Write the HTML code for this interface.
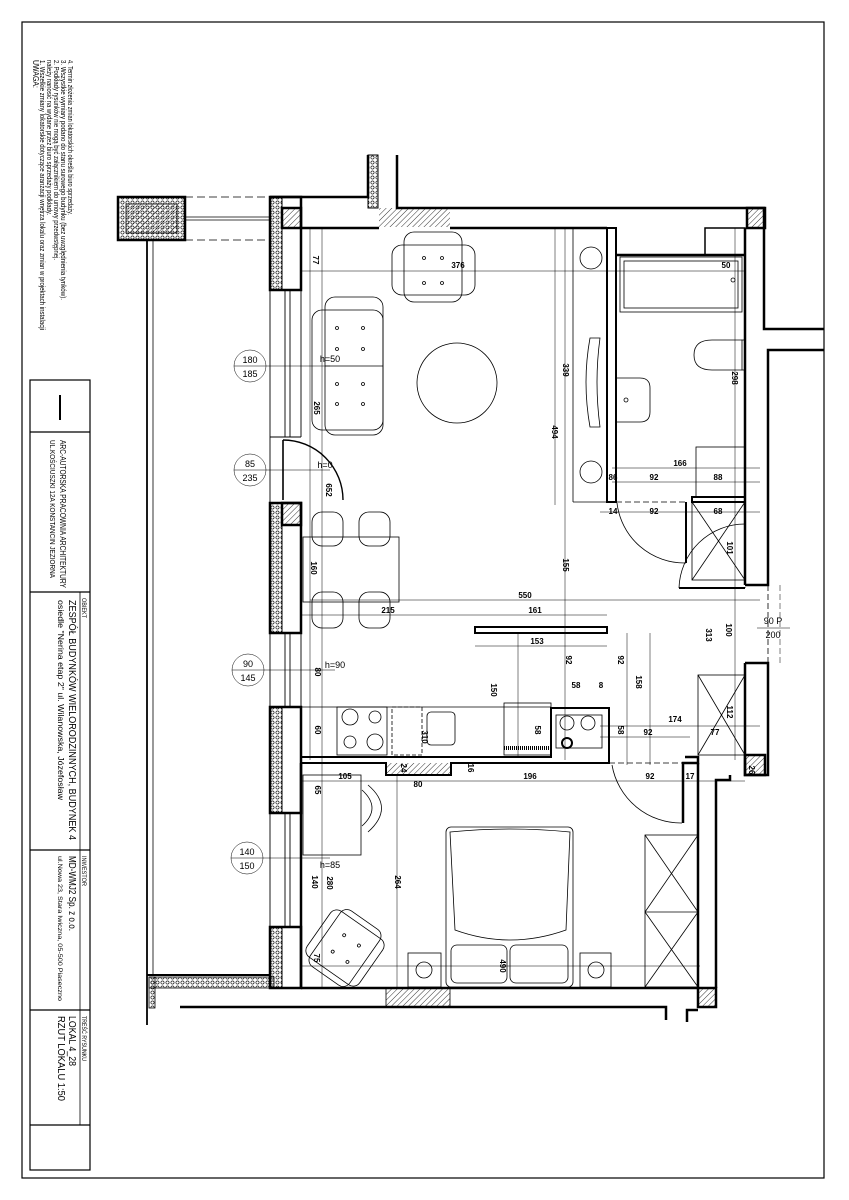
<!DOCTYPE html>
<html><head><meta charset="utf-8"><style>
html,body{margin:0;padding:0;background:#fff}
svg{display:block}
text{font-family:"Liberation Sans Narrow","Liberation Sans",sans-serif;fill:#000}
</style></head><body>
<svg width="849" height="1200" viewBox="0 0 849 1200" xmlns="http://www.w3.org/2000/svg">
<defs>
<pattern id="h" width="4" height="4" patternUnits="userSpaceOnUse" patternTransform="rotate(45)"><line x1="0" y1="0" x2="0" y2="4" stroke="#000" stroke-width="0.8"/></pattern>
<pattern id="ins" width="5" height="5" patternUnits="userSpaceOnUse"><circle cx="2.5" cy="2.5" r="1.6" fill="none" stroke="#000" stroke-width="0.6"/></pattern>
</defs>
<rect x="22" y="22" width="802" height="1156" fill="none" stroke="#000" stroke-width="1.2"/>
<!-- notes -->
<g font-size="7">
<text transform="translate(33,60) rotate(90)" font-size="8" textLength="28" lengthAdjust="spacingAndGlyphs">UWAGA:</text>
<text transform="translate(40,60) rotate(90)" textLength="270" lengthAdjust="spacingAndGlyphs">1. Wszelkie zmiany lokatorskie dotyczące aranżacji wnętrza lokalu oraz zmian w projektach instalacji</text>
<text transform="translate(47,60) rotate(90)" textLength="155" lengthAdjust="spacingAndGlyphs">należy nanosić na wydane przez biuro sprzedaży podkłady.</text>
<text transform="translate(54,60) rotate(90)" textLength="200" lengthAdjust="spacingAndGlyphs">2. Podkłady rysunków nie mogą być załącznikiem do umowy przedwstępnej.</text>
<text transform="translate(61,60) rotate(90)" textLength="240" lengthAdjust="spacingAndGlyphs">3. Wszystkie wymiary podano do stanu surowego budynku (bez uwzględnienia tynków).</text>
<text transform="translate(68,60) rotate(90)" textLength="155" lengthAdjust="spacingAndGlyphs">4. Termin złożenia zmian lokatorskich określa biuro sprzedaży.</text>
</g>
<!-- title block -->
<g stroke="#000" fill="none" stroke-width="1.2">
<rect x="30" y="380" width="60" height="790"/>
<line x1="30" y1="432" x2="90" y2="432"/>
<line x1="30" y1="592" x2="90" y2="592"/>
<line x1="30" y1="850" x2="90" y2="850"/>
<line x1="30" y1="1010" x2="90" y2="1010"/>
<line x1="30" y1="1125" x2="90" y2="1125"/>
<line x1="80" y1="592" x2="80" y2="1125" stroke-width="0.8"/>
<line x1="60" y1="395" x2="60" y2="420" stroke-width="2"/>
</g>
<g>
<text transform="translate(60,440) rotate(90)" font-size="8" textLength="148" lengthAdjust="spacingAndGlyphs">ARC-AUTORSKA PRACOWNIA ARCHITEKTURY</text>
<text transform="translate(50,440) rotate(90)" font-size="7" textLength="138" lengthAdjust="spacingAndGlyphs">UL.KOŚCIUSZKI 12A  KONSTANCIN JEZIORNA</text>
<text transform="translate(82,598) rotate(90)" font-size="6" textLength="20" lengthAdjust="spacingAndGlyphs">OBIEKT</text>
<text transform="translate(69,600) rotate(90)" font-size="10" textLength="240" lengthAdjust="spacingAndGlyphs">ZESPÓŁ BUDYNKÓW WIELORODZINNYCH, BUDYNEK 4</text>
<text transform="translate(58,600) rotate(90)" font-size="8" textLength="200" lengthAdjust="spacingAndGlyphs">osiedle "Nerina etap 2" ul. Wilanowska, Józefosław</text>
<text transform="translate(82,856) rotate(90)" font-size="6" textLength="30" lengthAdjust="spacingAndGlyphs">INWESTOR</text>
<text transform="translate(69,856) rotate(90)" font-size="10" textLength="75" lengthAdjust="spacingAndGlyphs">MD-WMJ2 Sp. z o.o.</text>
<text transform="translate(58,856) rotate(90)" font-size="6.5" textLength="145" lengthAdjust="spacingAndGlyphs">ul.Nowa 23, Stara Iwiczna, 05-500 Piaseczno</text>
<text transform="translate(82,1016) rotate(90)" font-size="6" textLength="45" lengthAdjust="spacingAndGlyphs">TREŚĆ RYSUNKU</text>
<text transform="translate(69,1016) rotate(90)" font-size="10" textLength="50" lengthAdjust="spacingAndGlyphs">LOKAL 4_28</text>
<text transform="translate(58,1016) rotate(90)" font-size="10" textLength="85" lengthAdjust="spacingAndGlyphs">RZUT LOKALU  1:50</text>
</g>

<!-- balcony -->
<g stroke="#000" fill="none">
<rect x="118" y="197" width="67" height="43" stroke-width="2.5" fill="url(#ins)"/>
<rect x="126" y="204" width="51" height="29" stroke-width="0.8" fill="url(#h)"/>
<line x1="185" y1="197" x2="270" y2="197" stroke-dasharray="8 4" stroke-width="0.7"/>
<line x1="185" y1="240" x2="270" y2="240" stroke-dasharray="8 4" stroke-width="0.7"/>
<line x1="185" y1="217" x2="270" y2="217" stroke-width="0.8"/>
<line x1="185" y1="220" x2="270" y2="220" stroke-width="0.8"/>
<line x1="147" y1="240" x2="147" y2="975" stroke-width="1.8"/>
<line x1="153" y1="240" x2="153" y2="975" stroke-width="0.8"/>
<polyline points="147,975 270,975 270,927" stroke-width="2"/>
<rect x="149" y="977" width="125" height="11" fill="url(#ins)" stroke-width="0.8"/>
<rect x="149" y="977" width="6" height="31" fill="url(#ins)" stroke-width="0.8"/>
<line x1="147" y1="975" x2="147" y2="1025" stroke-width="1.8"/>
</g>

<!-- walls -->
<g stroke="#000" fill="none" stroke-width="2.5">
<rect x="270" y="197" width="31" height="93" />
<rect x="270" y="197" width="12" height="93" fill="url(#ins)" stroke-width="1"/>
<rect x="270" y="503" width="31" height="130"/>
<rect x="270" y="503" width="12" height="130" fill="url(#ins)" stroke-width="1"/>
<rect x="270" y="707" width="31" height="106"/>
<rect x="270" y="707" width="12" height="106" fill="url(#ins)" stroke-width="1"/>
<rect x="270" y="927" width="31" height="61"/>
<rect x="270" y="927" width="12" height="61" fill="url(#ins)" stroke-width="1"/>
<rect x="282" y="208" width="19" height="20" fill="url(#h)"/>
<rect x="282" y="503" width="19" height="22" fill="url(#h)"/>
<g stroke-width="0.9">
<line x1="270" y1="290" x2="270" y2="503"/><line x1="301" y1="290" x2="301" y2="437"/>
<line x1="285" y1="290" x2="285" y2="437"/><line x1="290" y1="290" x2="290" y2="437"/>
<line x1="270" y1="633" x2="270" y2="707"/><line x1="301" y1="633" x2="301" y2="707"/>
<line x1="285" y1="633" x2="285" y2="707"/><line x1="290" y1="633" x2="290" y2="707"/>
<line x1="270" y1="813" x2="270" y2="927"/><line x1="301" y1="813" x2="301" y2="927"/>
<line x1="285" y1="813" x2="285" y2="927"/><line x1="290" y1="813" x2="290" y2="927"/>
<line x1="270" y1="437" x2="301" y2="437"/>
</g>
<polyline points="270,197 368,197 368,155"/>
<rect x="368" y="155" width="10" height="53" fill="url(#ins)" stroke-width="1"/>
<polyline points="397,155 397,208 765,208"/>
<rect x="379" y="208" width="71" height="19" fill="url(#h)" stroke="none"/>
<line x1="301" y1="228" x2="379" y2="228"/>
<line x1="450" y1="228" x2="607" y2="228"/>
<rect x="747" y="208" width="18" height="20" fill="url(#h)"/>
<rect x="607" y="228" width="9" height="274" stroke-width="2"/>
<line x1="616" y1="255" x2="745" y2="255"/>
<rect x="705" y="228" width="40" height="27" stroke-width="1.5"/>
<line x1="745" y1="228" x2="745" y2="585"/>
<polyline points="764,208 764,329 824,329"/>
<polyline points="824,350 768,350 768,585 745,585"/>
<rect x="692" y="497" width="53" height="5" stroke-width="2"/>
<line x1="616" y1="502" x2="685" y2="502" stroke-dasharray="6 3" stroke-width="0.8"/>
<line x1="686" y1="502" x2="686" y2="563" stroke-width="2"/>
<rect x="475" y="627" width="132" height="6" stroke-width="2"/>
<polyline points="301,757 551,757 551,708 609,708 609,763 451,763 451,775 386,775 386,763 301,763" stroke-width="2"/>
<rect x="386" y="763" width="65" height="12" fill="url(#h)" stroke="none"/>
<line x1="301" y1="763" x2="301" y2="988"/>
<line x1="301" y1="988" x2="698" y2="988"/>
<rect x="386" y="988" width="64" height="19" fill="url(#h)" stroke-width="0.8"/>
<rect x="698" y="988" width="18" height="19" fill="url(#h)"/>
<line x1="698" y1="763" x2="698" y2="988"/>
<polyline points="716,988 716,780 730,780 730,775"/>
<polyline points="180,1007 666,1007 666,1020"/>
<polyline points="687,1022 687,1010 698,1010"/>
<polyline points="683,823 683,763 698,763 698,757 685,757"/>
<polyline points="745,663 768,663 768,775 745,775 745,663"/>
<rect x="745" y="755" width="20" height="20" fill="url(#h)"/>
</g>

<g stroke="#000" fill="none" stroke-width="0.8">
<path d="M283,440 A60,60 0 0 1 343,500" stroke-width="1.4"/>
<line x1="283" y1="440" x2="283" y2="500" stroke-width="1.6"/>
<path d="M617,503 A68,68 0 0 0 686,563"/>
<path d="M679,588 A66,66 0 0 1 745,524"/>
<line x1="679" y1="588" x2="745" y2="588" stroke-width="2"/>
<line x1="745" y1="524" x2="745" y2="588" stroke-dasharray="6 3"/>
<line x1="768" y1="585" x2="768" y2="663" stroke-dasharray="6 3"/>
<path d="M612,765 A70,70 0 0 0 682,823"/>
<line x1="609" y1="763" x2="683" y2="763" stroke-dasharray="6 3"/>
<rect x="692" y="502" width="53" height="78"/><line x1="692" y1="502" x2="745" y2="580"/><line x1="745" y1="502" x2="692" y2="580"/>
<rect x="698" y="675" width="47" height="80"/><line x1="698" y1="675" x2="745" y2="755"/><line x1="745" y1="675" x2="698" y2="755"/>
<rect x="645" y="835" width="53" height="152"/><line x1="645" y1="912" x2="698" y2="912"/>
<line x1="645" y1="835" x2="698" y2="912"/><line x1="698" y1="835" x2="645" y2="912"/>
<line x1="645" y1="912" x2="698" y2="987"/><line x1="698" y1="912" x2="645" y2="987"/>
</g>

<g stroke="#000" fill="none" stroke-width="0.8">
<rect x="392" y="245" width="83" height="50" rx="10"/>
<rect x="404" y="232" width="58" height="70" rx="10"/>
<circle cx="424" cy="258" r="1.5"/><circle cx="442" cy="258" r="1.5"/><circle cx="424" cy="283" r="1.5"/><circle cx="442" cy="283" r="1.5"/>
<rect x="312" y="310" width="71" height="120" rx="10"/>
<rect x="325" y="297" width="58" height="138" rx="10"/>
<line x1="325" y1="366" x2="383" y2="366"/>
<circle cx="337" cy="328" r="1.5"/><circle cx="363" cy="328" r="1.5"/><circle cx="337" cy="349" r="1.5"/><circle cx="363" cy="349" r="1.5"/>
<circle cx="337" cy="384" r="1.5"/><circle cx="363" cy="384" r="1.5"/><circle cx="337" cy="404" r="1.5"/><circle cx="363" cy="404" r="1.5"/>
<circle cx="457" cy="383" r="40"/>
<path d="M590,338 Q582,382 590,427 L600,427 Q594,382 600,338 Z"/>
<circle cx="591" cy="258" r="11"/><circle cx="591" cy="472" r="11"/>
<line x1="573" y1="228" x2="573" y2="502"/><line x1="573" y1="502" x2="607" y2="502"/>
<rect x="303" y="537" width="96" height="65"/>
<rect x="312" y="512" width="31" height="34" rx="10"/><rect x="359" y="512" width="31" height="34" rx="10"/>
<rect x="312" y="592" width="31" height="36" rx="10"/><rect x="359" y="592" width="31" height="36" rx="10"/>
<rect x="620" y="257" width="122" height="55"/><rect x="624" y="261" width="114" height="47"/>
<circle cx="733" cy="280" r="2"/>
<path d="M742,340 L712,340 Q694,340 694,355 Q694,370 712,370 L742,370"/>
<rect x="742" y="340" width="3" height="30"/>
<path d="M616,378 L640,378 Q650,378 650,388 L650,412 Q650,422 640,422 L616,422"/>
<circle cx="626" cy="400" r="2"/>
<rect x="696" y="447" width="49" height="50"/>
<line x1="301" y1="707" x2="551" y2="707"/>
<circle cx="350" cy="717" r="8"/><circle cx="375" cy="717" r="6"/><circle cx="350" cy="742" r="6"/><circle cx="375" cy="742" r="8"/>
<rect x="337" y="707" width="50" height="48"/>
<rect x="392" y="707" width="30" height="48" stroke-dasharray="4 2"/>
<rect x="427" y="712" width="28" height="33" rx="4"/>
<rect x="504" y="703" width="47" height="52"/>
<line x1="504" y1="748" x2="551" y2="748" stroke-dasharray="1 1" stroke-width="4"/>
<rect x="556" y="715" width="46" height="33"/>
<circle cx="567" cy="723" r="7"/><circle cx="588" cy="723" r="7"/><circle cx="567" cy="743" r="5" stroke-width="2"/>
<rect x="303" y="775" width="58" height="80"/>
<path d="M368,785 Q395,808 368,832"/><path d="M362,790 Q382,808 362,826"/>
<rect x="446" y="827" width="127" height="160" rx="5"/>
<path d="M450,832 Q510,826 570,832 L566,930 Q510,950 455,930 Z"/>
<rect x="451" y="945" width="56" height="38" rx="6"/><rect x="510" y="945" width="58" height="38" rx="6"/>
<rect x="408" y="953" width="33" height="34"/><circle cx="424" cy="970" r="8"/>
<rect x="580" y="953" width="31" height="34"/><circle cx="596" cy="970" r="8"/>
<g transform="translate(345,948) rotate(35)">
<rect x="-32" y="-28" width="64" height="56" rx="8"/><rect x="-24" y="-34" width="48" height="68" rx="8"/>
<circle cx="-8" cy="-10" r="1.5"/><circle cx="10" cy="-10" r="1.5"/><circle cx="-8" cy="10" r="1.5"/><circle cx="10" cy="10" r="1.5"/>
</g>
</g>

<g stroke="#000" fill="none" stroke-width="0.5">
<line x1="302" y1="271" x2="745" y2="271"/>
<line x1="310" y1="600" x2="760" y2="600"/>
<line x1="302" y1="615" x2="607" y2="615"/>
<line x1="475" y1="646" x2="607" y2="646"/>
<line x1="565" y1="228" x2="565" y2="760"/>
<line x1="555" y1="228" x2="555" y2="505"/>
<line x1="322" y1="228" x2="322" y2="988"/>
<line x1="310" y1="228" x2="310" y2="760"/>
<line x1="735" y1="228" x2="735" y2="760"/>
<line x1="612" y1="468" x2="760" y2="468"/>
<line x1="612" y1="482" x2="760" y2="482"/>
<line x1="600" y1="512" x2="760" y2="512"/>
<line x1="600" y1="726" x2="760" y2="726"/>
<line x1="600" y1="737" x2="690" y2="737"/>
<line x1="301" y1="781" x2="745" y2="781"/>
<line x1="301" y1="966" x2="700" y2="966"/>
<line x1="397" y1="775" x2="397" y2="988"/>
<line x1="518" y1="633" x2="518" y2="757"/>
<line x1="627" y1="633" x2="627" y2="765"/>
<line x1="650" y1="633" x2="650" y2="765"/>
<line x1="780" y1="585" x2="780" y2="663" stroke-dasharray="6 3"/>
<circle cx="250" cy="366" r="16"/><line x1="234" y1="366" x2="330" y2="366"/>
<circle cx="250" cy="470" r="16"/><line x1="234" y1="470" x2="330" y2="470"/>
<circle cx="248" cy="670" r="16"/><line x1="232" y1="670" x2="335" y2="670"/>
<circle cx="247" cy="858" r="16"/><line x1="231" y1="858" x2="330" y2="858"/>
<line x1="757" y1="628" x2="790" y2="628"/>
</g>
<g font-size="9" text-anchor="middle" fill="#333">
<text x="250" y="363">180</text><text x="250" y="377">185</text>
<text x="250" y="467">85</text><text x="250" y="481">235</text>
<text x="248" y="667">90</text><text x="248" y="681">145</text>
<text x="247" y="855">140</text><text x="247" y="869">150</text>
<text x="773" y="624">90 P</text><text x="773" y="638">200</text>
<text x="330" y="362">h=50</text><text x="325" y="468">h=0</text>
<text x="335" y="668">h=90</text><text x="330" y="868">h=85</text>
</g>
<g font-size="8" font-weight="bold" text-anchor="middle">
<text transform="translate(313,260) rotate(90)">77</text>
<text x="458" y="268">376</text>
<text transform="translate(314,408) rotate(90)">265</text>
<text transform="translate(563,370) rotate(90)">339</text>
<text transform="translate(552,432) rotate(90)">494</text>
<text transform="translate(326,490) rotate(90)">652</text>
<text transform="translate(311,568) rotate(90)">160</text>
<text transform="translate(563,565) rotate(90)">155</text>
<text x="525" y="598">550</text><text x="388" y="613">215</text><text x="535" y="613">161</text>
<text x="537" y="644">153</text>
<text x="680" y="466">166</text><text x="613" y="480">86</text><text x="654" y="480">92</text><text x="718" y="480">88</text>
<text x="613" y="514">14</text><text x="654" y="514">92</text><text x="718" y="514">68</text>
<text transform="translate(727,548) rotate(90)">101</text>
<text transform="translate(732,378) rotate(90)">298</text>
<text x="726" y="268">50</text>
<text transform="translate(706,635) rotate(90)">313</text>
<text transform="translate(726,630) rotate(90)">100</text>
<text transform="translate(566,660) rotate(90)">92</text>
<text transform="translate(618,660) rotate(90)">92</text>
<text x="576" y="688">58</text><text x="601" y="688">8</text>
<text transform="translate(636,682) rotate(90)">158</text>
<text transform="translate(491,690) rotate(90)">150</text>
<text transform="translate(315,730) rotate(90)">60</text>
<text transform="translate(315,672) rotate(90)">80</text>
<text transform="translate(422,737) rotate(90)">310</text>
<text transform="translate(535,730) rotate(90)">58</text>
<text transform="translate(618,730) rotate(90)">58</text>
<text x="675" y="722">174</text><text x="648" y="735">92</text><text x="715" y="735">77</text>
<text transform="translate(727,712) rotate(90)">112</text>
<text transform="translate(401,768) rotate(90)">24</text>
<text transform="translate(468,768) rotate(90)">16</text>
<text x="345" y="779">105</text><text x="530" y="779">196</text><text x="650" y="779">92</text><text x="690" y="779">17</text>
<text x="418" y="787">80</text>
<text transform="translate(749,770) rotate(90)">26</text>
<text transform="translate(315,790) rotate(90)">65</text>
<text transform="translate(312,882) rotate(90)">140</text>
<text transform="translate(327,883) rotate(90)">280</text>
<text transform="translate(395,882) rotate(90)">264</text>
<text transform="translate(500,966) rotate(90)">490</text>
<text transform="translate(314,958) rotate(90)">75</text>
</g>
</svg>
</body></html>
